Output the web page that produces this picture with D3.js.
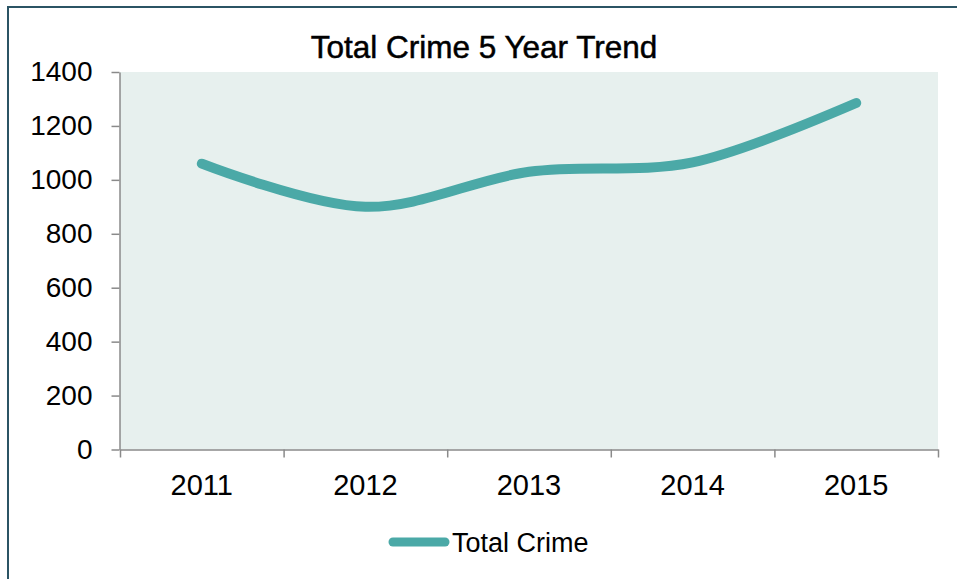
<!DOCTYPE html>
<html>
<head>
<meta charset="utf-8">
<script src="https://cdn.jsdelivr.net/npm/d3@7/dist/d3.min.js"></script>
<style>
  html, body { margin: 0; padding: 0; background: #ffffff; }
  svg { display: block; font-family: "Liberation Sans", Arial, sans-serif; }
</style>
</head>
<body>
<svg id="chart" width="957" height="579"></svg>
<script>
// Annual totals of reported crime
const years = ["2011", "2012", "2013", "2014", "2015"];
const totalCrime = [1060, 900, 1030, 1065, 1285];
const yTicks = [0, 200, 400, 600, 800, 1000, 1200, 1400];
const chartTitle = "Total Crime 5 Year Trend";
const seriesName = "Total Crime";

const svg = d3.select("#chart");
const plot = { left: 120, right: 938, top: 72, bottom: 449.5 };
const lineColor = "#4BA9A7";
const axisColor = "#8a8a8a";

// outer frame of the chart (right and bottom edges run past the page)
svg.append("rect")
  .attr("x", 8).attr("y", 7)
  .attr("width", 1000).attr("height", 600)
  .attr("fill", "none")
  .attr("stroke", "#2b5464")
  .attr("stroke-width", 2);

// plot area background
svg.append("rect")
  .attr("x", plot.left).attr("y", plot.top)
  .attr("width", plot.right - plot.left)
  .attr("height", plot.bottom - plot.top)
  .attr("fill", "#E7F0EE");

// scales: categories sit in equal slots between boundary ticks
const xSlot = d3.scaleLinear().domain([0, years.length]).range([plot.left, plot.right]);
const x = (i) => xSlot(i + 0.5);
const y = d3.scaleLinear().domain([0, 1400]).range([plot.bottom, plot.top]);

// y axis
const yAxis = svg.append("g")
  .attr("transform", `translate(${plot.left - 0.5},0)`)
  .call(d3.axisLeft(y).tickValues(yTicks).tickFormat(d3.format("d"))
    .tickSize(8).tickPadding(19).tickSizeOuter(0));
yAxis.select(".domain").attr("stroke", axisColor).attr("stroke-width", 1.5);
yAxis.selectAll(".tick line").attr("stroke", axisColor).attr("stroke-width", 1.5);
yAxis.selectAll(".tick text")
  .attr("fill", "#000")
  .style("font-size", "28px")
  .style("font-family", "'Liberation Sans', Arial, sans-serif");

// x axis: tick marks at slot boundaries, labels centred in slots
const xAxis = svg.append("g")
  .attr("transform", `translate(0,${plot.bottom})`)
  .call(d3.axisBottom(xSlot).tickValues(d3.range(years.length + 1)).tickSize(8).tickFormat("").tickSizeOuter(0));
xAxis.select(".domain").attr("stroke", axisColor).attr("stroke-width", 1.5);
xAxis.selectAll(".tick line").attr("stroke", axisColor).attr("stroke-width", 1.5);

svg.append("g").selectAll("text")
  .data(years)
  .join("text")
  .attr("x", (d, i) => x(i))
  .attr("y", plot.bottom + 45)
  .attr("text-anchor", "middle")
  .attr("fill", "#000")
  .style("font-size", "29px")
  .text(d => d);

// smoothed trend line
const line = d3.line()
  .x((d, i) => x(i))
  .y(d => y(d))
  .curve(d3.curveCatmullRom.alpha(0.5));

svg.append("path")
  .datum(totalCrime)
  .attr("d", line)
  .attr("fill", "none")
  .attr("stroke", lineColor)
  .attr("stroke-width", 10)
  .attr("stroke-linecap", "round")
  .attr("stroke-linejoin", "round");

// title
svg.append("text")
  .attr("x", 484)
  .attr("y", 58)
  .attr("text-anchor", "middle")
  .attr("fill", "#000")
  .attr("stroke", "#000")
  .attr("stroke-width", 0.5)
  .style("font-size", "31.5px")
  .text(chartTitle);

// legend
const legend = svg.append("g");
legend.append("line")
  .attr("x1", 393).attr("x2", 445)
  .attr("y1", 542).attr("y2", 542)
  .attr("stroke", lineColor)
  .attr("stroke-width", 9)
  .attr("stroke-linecap", "round");
legend.append("text")
  .attr("x", 452)
  .attr("y", 552)
  .attr("fill", "#000")
  .style("font-size", "27px")
  .text(seriesName);
</script>
</body>
</html>
